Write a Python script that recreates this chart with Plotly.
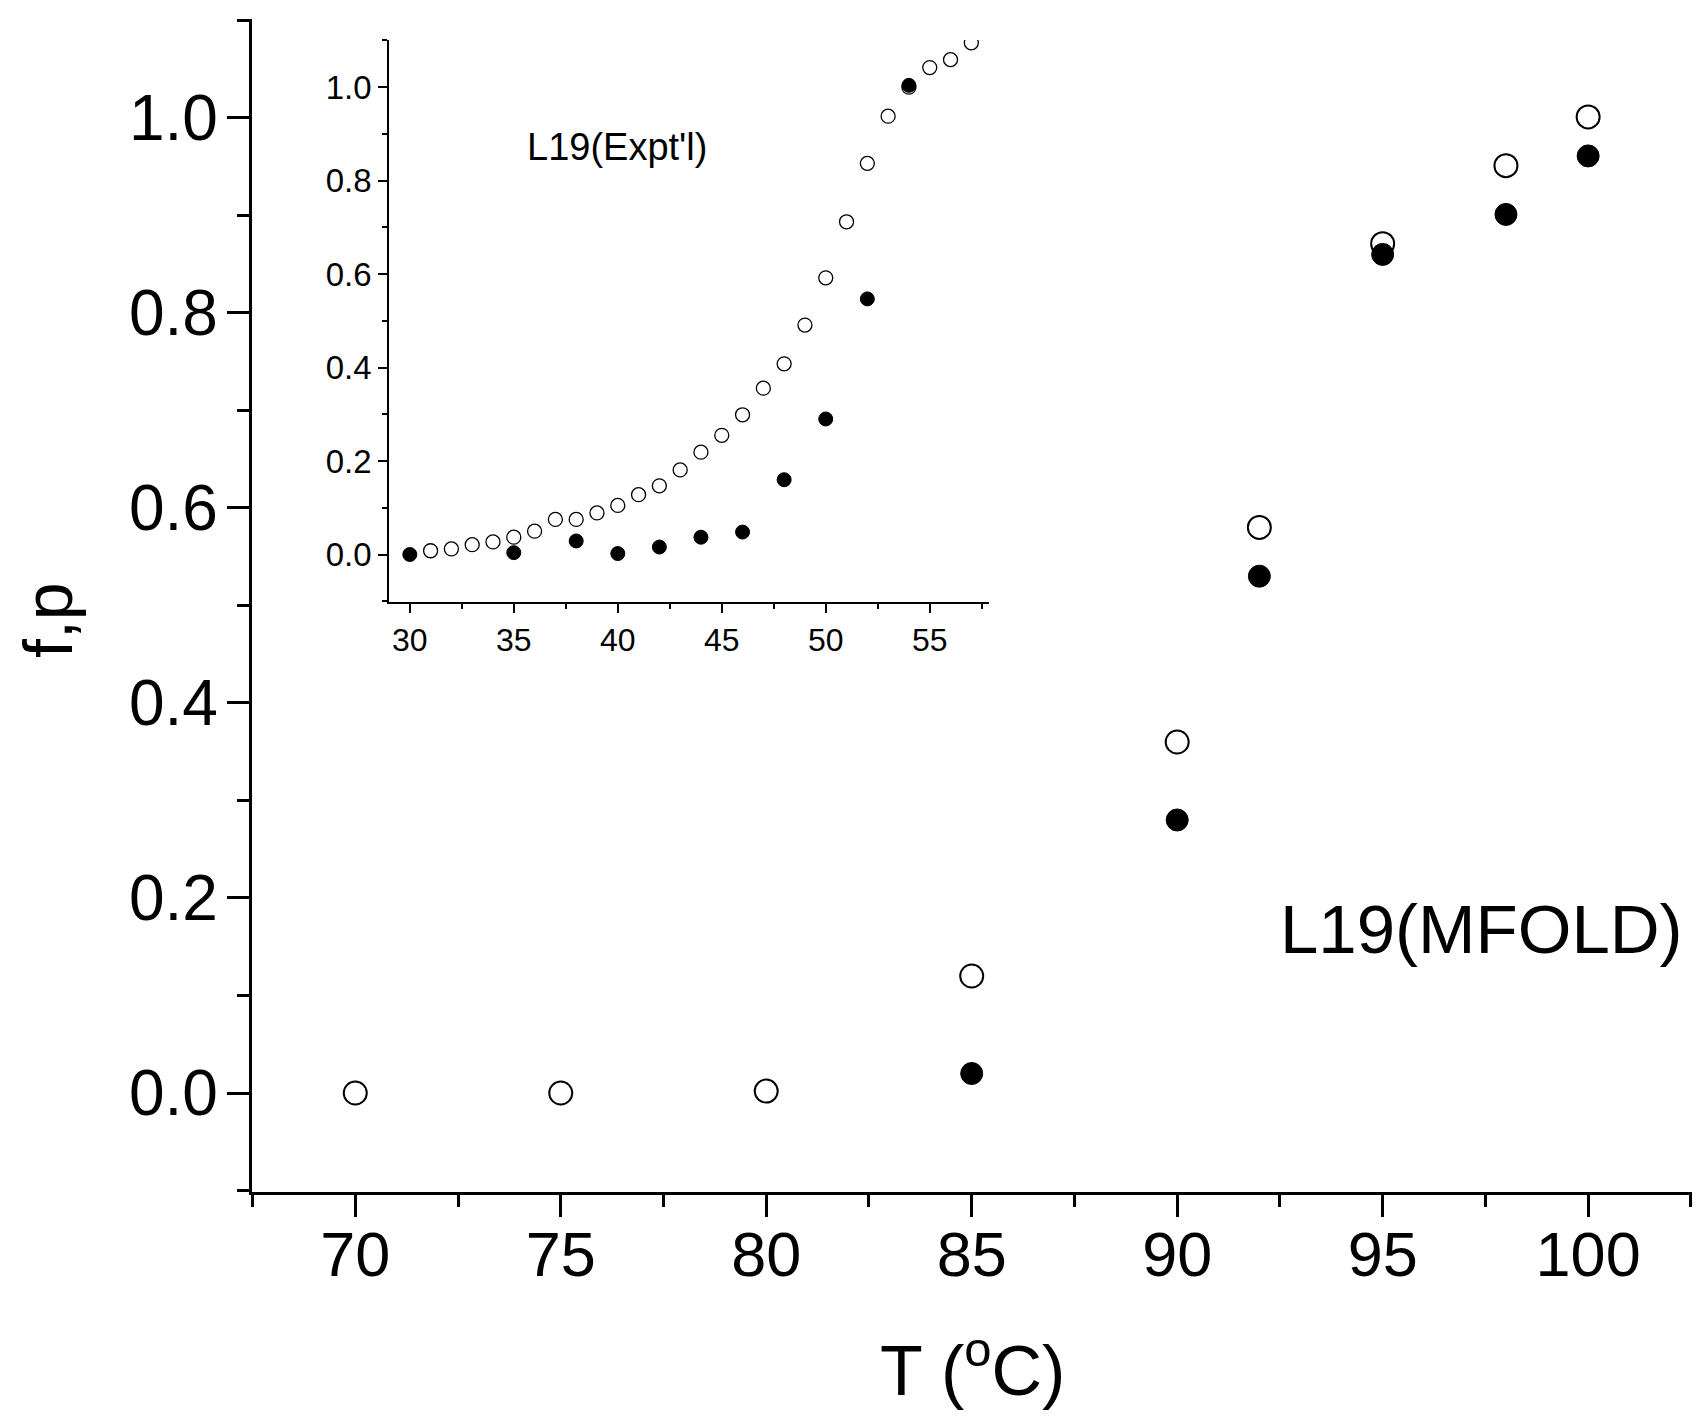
import plotly.graph_objects as go

# ---- main panel data (MFOLD) ----
T_main_open = [70, 75, 80, 85, 90, 92, 95, 98, 100]
f_main_open = [0.0, 0.0, 0.002, 0.12, 0.36, 0.58, 0.871, 0.951, 1.001]
T_main_fill = [85, 90, 92, 95, 98, 100]
p_main_fill = [0.02, 0.28, 0.53, 0.86, 0.901, 0.961]

# ---- inset data (Expt'l) ----
T_ins_open = [31, 32, 33, 34, 35, 36, 37, 38, 39, 40, 41, 42, 43, 44, 45,
              46, 47, 48, 49, 50, 51, 52, 53, 54, 55, 56, 57]
f_ins_open = [0.008, 0.012, 0.021, 0.027, 0.037, 0.050, 0.075, 0.075, 0.089,
              0.105, 0.128, 0.147, 0.181, 0.219, 0.255, 0.299, 0.356, 0.408,
              0.491, 0.592, 0.712, 0.837, 0.938, 1.0, 1.042, 1.059, 1.095]
T_ins_fill = [30, 35, 38, 40, 42, 44, 46, 48, 50, 52, 54]
p_ins_fill = [0.0, 0.004, 0.029, 0.002, 0.016, 0.037, 0.048, 0.160, 0.290, 0.547, 1.004]

W, H = 1701, 1421
FONT = "Liberation Sans, Arial, Helvetica, sans-serif"


def px(x):
    return x / W


def py(y):
    return 1 - y / H


fig = go.Figure()

fig.add_trace(go.Scatter(x=T_main_open, y=f_main_open, mode="markers",
                         marker=dict(symbol="circle", size=23, color="white",
                                     line=dict(color="black", width=2)),
                         xaxis="x", yaxis="y", cliponaxis=False))
fig.add_trace(go.Scatter(x=T_main_fill, y=p_main_fill, mode="markers",
                         marker=dict(symbol="circle", size=22, color="black",
                                     line=dict(color="black", width=1)),
                         xaxis="x", yaxis="y", cliponaxis=False))
fig.add_trace(go.Scatter(x=T_ins_open, y=f_ins_open, mode="markers",
                         marker=dict(symbol="circle", size=14, color="white",
                                     line=dict(color="black", width=1.3)),
                         xaxis="x2", yaxis="y2", cliponaxis=True))
fig.add_trace(go.Scatter(x=T_ins_fill, y=p_ins_fill, mode="markers",
                         marker=dict(symbol="circle", size=14, color="black",
                                     line=dict(color="black", width=1)),
                         xaxis="x2", yaxis="y2", cliponaxis=True))

main_axis = dict(showline=True, linecolor="black", linewidth=3, showgrid=False,
                 zeroline=False, ticks="outside", ticklen=22, tickwidth=3,
                 tickcolor="black")
ins_axis = dict(showline=True, linecolor="black", linewidth=1.6, showgrid=False,
                zeroline=False, ticks="outside", ticklen=9, tickwidth=1.5,
                tickcolor="black")

fig.update_layout(
    width=W, height=H,
    margin=dict(l=0, r=0, t=0, b=0),
    paper_bgcolor="white", plot_bgcolor="rgba(0,0,0,0)",
    showlegend=False,
    xaxis=dict(**main_axis, domain=[px(251.7), px(1691.7)], range=[67.48, 102.52],
               tick0=70, dtick=5, anchor="y", ticklabelstandoff=-16,
               tickfont=dict(family=FONT, size=63, color="black"),
               minor=dict(dtick=2.5, tick0=67.5, ticks="outside", ticklen=12,
                          tickwidth=3, tickcolor="black")),
    yaxis=dict(**main_axis, domain=[py(1191.5), py(19.4)], range=[-0.101, 1.101],
               tick0=0, dtick=0.2, tickformat=".1f", anchor="x", ticklabelstandoff=-4,
               tickfont=dict(family=FONT, size=64, color="black"),
               minor=dict(dtick=0.1, tick0=-0.1, ticks="outside", ticklen=12,
                          tickwidth=3, tickcolor="black")),
    xaxis2=dict(**ins_axis, domain=[px(389), px(989)], range=[29, 57.85],
                tick0=30, dtick=5, anchor="y2",
                tickfont=dict(family=FONT, size=32, color="black"),
                minor=dict(dtick=2.5, tick0=27.5, ticks="outside", ticklen=5,
                           tickwidth=1.5, tickcolor="black")),
    yaxis2=dict(**ins_axis, domain=[py(601.7), py(40)], range=[-0.101, 1.101],
                tick0=0, dtick=0.2, tickformat=".1f", anchor="x2",
                tickfont=dict(family=FONT, size=33, color="black"),
                minor=dict(dtick=0.1, tick0=-0.1, ticks="outside", ticklen=5,
                           tickwidth=1.5, tickcolor="black")),
    annotations=[
        dict(text="f,p", x=px(48), y=py(620), xref="paper", yref="paper",
             showarrow=False, textangle=-90, xanchor="center", yanchor="middle",
             font=dict(family=FONT, size=68, color="black")),
        dict(text="T (<sup>o</sup>C)", x=px(972), y=py(1366), xref="paper", yref="paper",
             showarrow=False, xanchor="center", yanchor="middle",
             font=dict(family=FONT, size=70, color="black")),
        dict(text="L19(MFOLD)", x=px(1481), y=py(929), xref="paper", yref="paper",
             showarrow=False, xanchor="center", yanchor="middle",
             font=dict(family=FONT, size=69, color="black")),
        dict(text="L19(Expt'l)", x=px(617), y=py(147), xref="paper", yref="paper",
             showarrow=False, xanchor="center", yanchor="middle",
             font=dict(family=FONT, size=38, color="black")),
    ],
)

fig.write_html("out.html")
